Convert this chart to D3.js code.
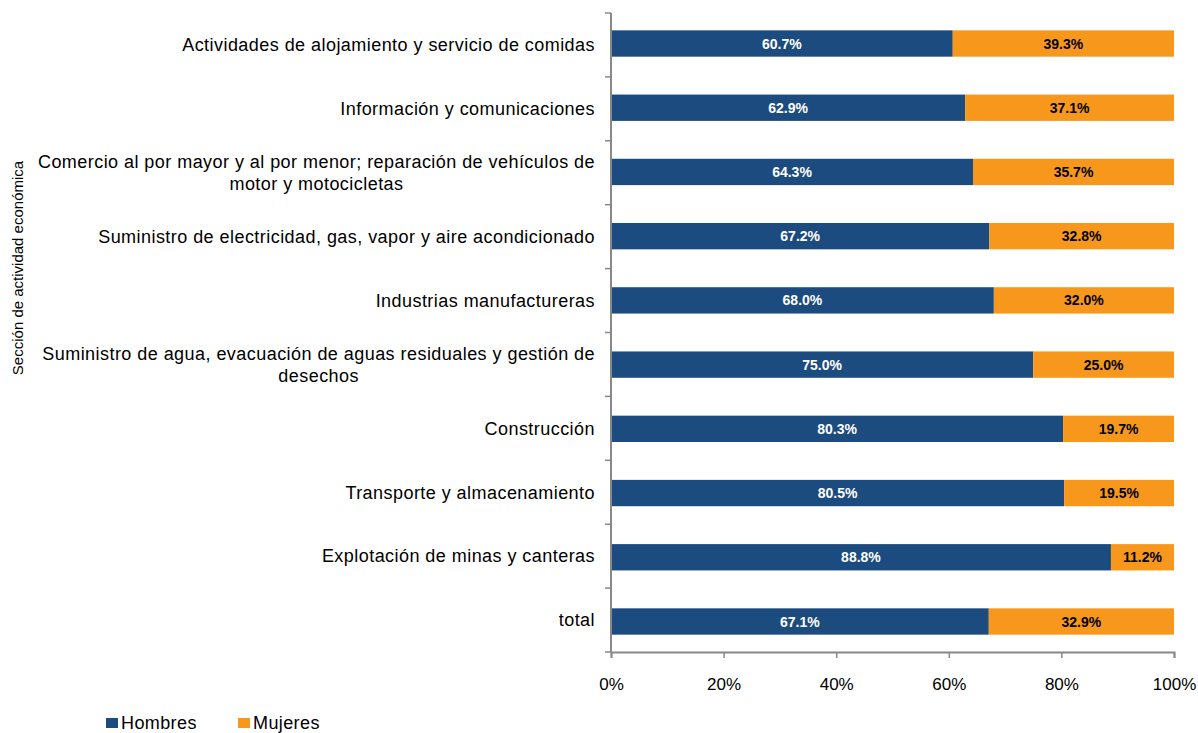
<!DOCTYPE html>
<html>
<head>
<meta charset="utf-8">
<script src="https://d3js.org/d3.v7.min.js"></script>
<style>
  body { margin: 0; background: #fff; font-family: "Liberation Sans", Arial, sans-serif; }
</style>
</head>
<body>
<div id="chart"></div>
<script>
  // DATA
  const categories = [
    ["Actividades de alojamiento y servicio de comidas"],
    ["Información y comunicaciones"],
    ["Comercio al por mayor y al por menor; reparación de vehículos de", "motor y motocicletas"],
    ["Suministro de electricidad, gas, vapor y aire acondicionado"],
    ["Industrias manufactureras"],
    ["Suministro de agua, evacuación de aguas residuales y gestión de", "desechos"],
    ["Construcción"],
    ["Transporte y almacenamiento"],
    ["Explotación de minas y canteras"],
    ["total"]
  ];
  const hombres = [60.7, 62.9, 64.3, 67.2, 68.0, 75.0, 80.3, 80.5, 88.8, 67.1];
  const mujeres = [39.3, 37.1, 35.7, 32.8, 32.0, 25.0, 19.7, 19.5, 11.2, 32.9];
  const xTicks = [0, 20, 40, 60, 80, 100];
  const seriesNames = ["Hombres", "Mujeres"];
  const colors = ["#1b4b7f", "#f7981d"];

  // LAYOUT
  const W = 1198, H = 733;
  const margin = { top: 13, right: 24, bottom: 81, left: 611 };
  const width = W - margin.left - margin.right;
  const height = H - margin.top - margin.bottom;

  const svg = d3.select("#chart").append("svg")
    .attr("width", W).attr("height", H);

  const g = svg.append("g")
    .attr("transform", "translate(" + margin.left + "," + margin.top + ")");

  const idx = d3.range(categories.length);
  const y = d3.scaleBand().domain(idx).range([0, height]).paddingInner(0.59).paddingOuter(0.27);
  const yOuter = d3.scaleBand().domain(idx).range([0, height]);
  const x = d3.scaleLinear().domain([0, 100]).range([0, width]);

  // BARS
  const rows = idx.map(i => ({ i: i, h: hombres[i], m: mujeres[i] }));

  g.selectAll(".bh").data(rows).enter().append("rect")
    .attr("x", x(0))
    .attr("y", d => y(d.i))
    .attr("width", d => x(d.h) - x(0))
    .attr("height", y.bandwidth())
    .attr("fill", colors[0]);

  g.selectAll(".bm").data(rows).enter().append("rect")
    .attr("x", d => x(d.h))
    .attr("y", d => y(d.i))
    .attr("width", d => x(d.h + d.m) - x(d.h))
    .attr("height", y.bandwidth())
    .attr("fill", colors[1]);

  // bar labels
  g.selectAll(".lh").data(rows).enter().append("text")
    .attr("x", d => x(d.h / 2))
    .attr("y", d => y(d.i) + y.bandwidth() / 2)
    .attr("dy", "0.36em")
    .attr("text-anchor", "middle")
    .attr("fill", "#fff")
    .style("font-size", "14px").style("font-weight", "bold")
    .text(d => d.h.toFixed(1) + "%");

  g.selectAll(".lm").data(rows).enter().append("text")
    .attr("x", d => x(d.h + d.m / 2))
    .attr("y", d => y(d.i) + y.bandwidth() / 2)
    .attr("dy", "0.36em")
    .attr("text-anchor", "middle")
    .attr("fill", "#000")
    .style("font-size", "14px").style("font-weight", "bold")
    .text(d => d.m.toFixed(1) + "%");

  // Y AXIS
  const axisColor = "#888";
  g.append("line")
    .attr("x1", 0).attr("x2", 0).attr("y1", 0).attr("y2", height)
    .attr("stroke", axisColor).attr("stroke-width", 2);

  g.selectAll(".ytick").data(d3.range(categories.length + 1)).enter().append("line")
    .attr("x1", -6).attr("x2", 0)
    .attr("y1", d => d < categories.length ? yOuter(d) : height)
    .attr("y2", d => d < categories.length ? yOuter(d) : height)
    .attr("stroke", axisColor).attr("stroke-width", 1.5);

  // category labels
  const labelRight = -16;
  const lineH = 22;
  categories.forEach((lines, i) => {
    const cy = yOuter(i) + yOuter.bandwidth() / 2;
    const t = g.append("text")
      .style("font-size", "18px")
      .style("letter-spacing", "0.45px")
      .attr("fill", "#000");
    const startY = cy - (lines.length - 1) * lineH / 2;
    lines.forEach((ln, k) => {
      t.append("tspan").attr("y", startY + k * lineH).attr("dy", "0.35em").text(ln);
    });
    if (lines.length === 1) {
      t.attr("text-anchor", "end").selectAll("tspan").attr("x", labelRight);
    } else {
      // centre multiline labels inside a right-aligned block
      const widths = [];
      t.selectAll("tspan").each(function () { widths.push(this.getComputedTextLength()); });
      const maxW = d3.max(widths);
      t.attr("text-anchor", "middle").selectAll("tspan").attr("x", labelRight - maxW / 2);
    }
  });

  // X AXIS
  const xAxis = g.append("g")
    .attr("transform", "translate(0," + height + ")")
    .call(d3.axisBottom(x).tickValues(xTicks).tickSize(6).tickPadding(20).tickFormat(d => d + "%"));
  xAxis.select(".domain").attr("stroke", axisColor).attr("stroke-width", 2);
  xAxis.selectAll(".tick line").attr("stroke", axisColor).attr("stroke-width", 1.5);
  xAxis.selectAll(".tick text")
    .style("font-size", "17px")
    .style("font-family", "\"Liberation Sans\", Arial, sans-serif")
    .attr("fill", "#000");

  // Y TITLE
  svg.append("text")
    .attr("transform", "translate(23,268) rotate(-90)")
    .attr("text-anchor", "middle")
    .style("font-size", "15px")
    .attr("fill", "#000")
    .text("Sección de actividad económica");

  // LEGEND
  const legend = svg.append("g").attr("transform", "translate(106,716)");
  const legendX = [0, 132];
  seriesNames.forEach((name, i) => {
    legend.append("rect")
      .attr("x", legendX[i]).attr("y", 2)
      .attr("width", 12).attr("height", 10)
      .attr("fill", colors[i]);
    legend.append("text")
      .attr("x", legendX[i] + 15).attr("y", 7)
      .attr("dy", "0.35em")
      .style("font-size", "18px")
      .style("letter-spacing", "0.4px")
      .attr("fill", "#000")
      .text(name);
  });
</script>
</body>
</html>
